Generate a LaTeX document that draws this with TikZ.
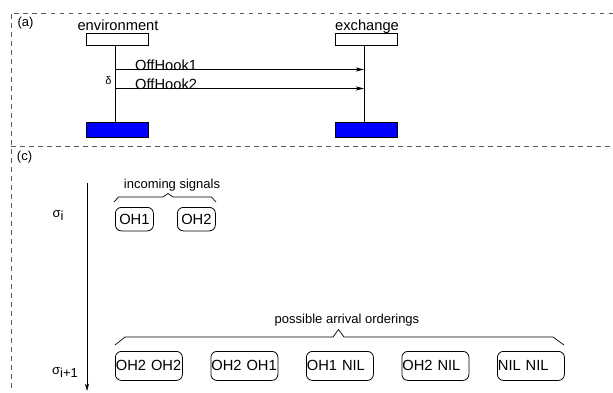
\documentclass[tikz,border=0pt]{standalone}
\usepackage{fontspec}
\setmainfont{Liberation Sans}
\usetikzlibrary{arrows.meta}

\definecolor{framegray}{RGB}{90,90,90}
\definecolor{endblue}{RGB}{0,0,255}

\newcommand{\bigtxt}{\fontsize{14.7}{16}\selectfont}
\newcommand{\smalltxt}{\fontsize{13}{14}\selectfont}

\tikzset{
  frameline/.style={draw=framegray, line width=0.8pt, dash pattern=on 4.5pt off 4.5pt},
  headbox/.style={draw, line width=0.8pt, minimum width=62pt, minimum height=12pt, inner sep=0pt},
  footbox/.style={draw, line width=0.8pt, fill=endblue, minimum width=62pt, minimum height=14.5pt, inner sep=0pt},
  lifeline/.style={line width=0.8pt},
  msg/.style={line width=0.8pt, -{Stealth[length=8pt, width=4pt, inset=2pt]}},
  axis/.style={line width=0.8pt, -{Stealth[length=7pt, width=4pt, inset=1.5pt]}},
  brace/.style={line width=0.7pt, line join=miter},
  sigbox/.style={draw, line width=0.8pt, rounded corners=6pt, font=\bigtxt,
    inner xsep=0.5pt, inner ysep=0pt, minimum height=29pt, text width=66pt, align=left},
  smallbox/.style={draw, line width=0.8pt, rounded corners=6pt, font=\bigtxt,
    inner xsep=3pt, inner ysep=0pt, minimum height=23.5pt, text width=32pt, align=center},
  lbl/.style={font=\bigtxt, inner sep=0pt},
  slbl/.style={font=\smalltxt, inner sep=0pt}
}

\begin{document}
\begin{tikzpicture}[x=1pt, y=-1pt]
\useasboundingbox (0,0) rectangle (613,392);

% dashed panel frames
\draw[frameline] (613,13) -- (11,13) -- (11,392);
\draw[frameline] (11,146) -- (613,146);

% ---- panel (a): message sequence chart ----
\node[slbl] (tagA) at (25.5,23) {(a)};

\node[headbox, anchor=north west] (envhead) at (86,33) {};
\node[footbox, anchor=north west] (envfoot) at (86,122) {};
\node[headbox, anchor=north west] (exhead) at (335,33) {};
\node[footbox, anchor=north west] (exfoot) at (335,122) {};
\node[lbl, anchor=base] (envname) at (118,30.5) {environment};
\node[lbl, anchor=base] (exname) at (367,30.5) {exchange};

\coordinate (envline) at (115,45);
\coordinate (envbot) at (115,122);
\coordinate (exline) at (364,45);
\coordinate (exbot) at (364,122);
\draw[lifeline] (envline) -- (envbot);
\draw[lifeline] (exline) -- (exbot);

\coordinate (m1s) at (115,69.5);
\coordinate (m1e) at (364,69.5);
\coordinate (m2s) at (115,88.5);
\coordinate (m2e) at (364,88.5);
\draw[msg] (m1s) -- (m1e);
\draw[msg] (m2s) -- (m2e);
\node[lbl, anchor=base west] (msg1) at (135,70) {OffHook1};
\node[lbl, anchor=base west] (msg2) at (135,89) {OffHook2};
\node[font=\fontsize{11}{12}\selectfont, inner sep=0pt] (delta) at (108.5,80.5) {δ};

% ---- panel (c): arrival orderings ----
\node[slbl] (tagC) at (24.5,157) {(c)};

\coordinate (ax0) at (87,183);
\coordinate (ax1) at (87,391);
\draw[axis] (ax0) -- (ax1);

\node[slbl] (sigi) at (58,216) {σ\raisebox{-3pt}{i}};
\node[slbl] (sigii) at (65,372.5) {σ\raisebox{-3pt}{i+1}};

% incoming signals
\node[slbl, anchor=base] (inlbl) at (172,188) {incoming signals};
\draw[brace] (114,202) -- (118.5,197) -- (163,197) -- (168,193.5) -- (173,197) -- (211.5,197) -- (216,202);
\node[smallbox, anchor=north west] (oh1) at (115,207) {OH1};
\node[smallbox, anchor=north west] (oh2) at (177,207) {OH2};

% possible arrival orderings
\node[slbl, anchor=base] (ordlbl) at (347,323) {possible arrival orderings};
\draw[brace] (115,345) -- (125,337) -- (333,337) -- (338.5,329.5) -- (344,337) -- (553,337) -- (564,345);
\node[sigbox, anchor=north west] (o1) at (115,351) {OH2 OH2};
\node[sigbox, anchor=north west] (o2) at (210.5,351) {OH2 OH1};
\node[sigbox, anchor=north west] (o3) at (306,351) {OH1 NIL};
\node[sigbox, anchor=north west] (o4) at (401.5,351) {OH2 NIL};
\node[sigbox, anchor=north west] (o5) at (497,351) {NIL NIL};
\end{tikzpicture}
\end{document}
